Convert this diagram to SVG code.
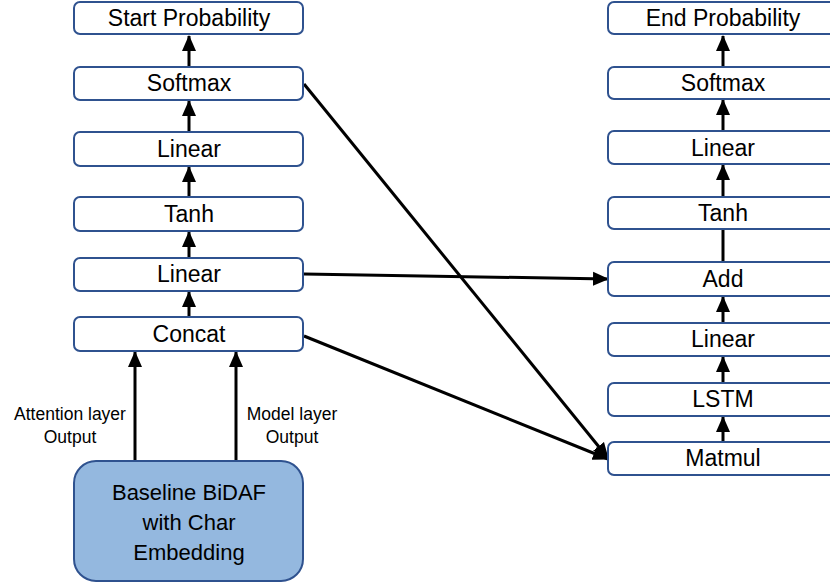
<svg xmlns="http://www.w3.org/2000/svg" width="830" height="583" viewBox="0 0 830 583">
<defs>
<marker id="ah" markerUnits="userSpaceOnUse" markerWidth="16" markerHeight="16" viewBox="0 0 16 16" refX="15" refY="8" orient="auto">
<path d="M0,1 L16,8 L0,15 Z" fill="#000"/>
</marker>
<style>
.box{fill:#fff;stroke:#2F528F;stroke-width:2}
.big{fill:#94B8DF;stroke:#2F528F;stroke-width:2}
.t{font-family:"Liberation Sans",Arial,sans-serif;font-size:23px;text-anchor:middle;fill:#000}
.b{font-family:"Liberation Sans",Arial,sans-serif;font-size:22px;text-anchor:middle;fill:#000}
.s{font-family:"Liberation Sans",Arial,sans-serif;font-size:17.5px;text-anchor:middle;fill:#000}
.c line{stroke:#000;stroke-width:3}
</style>
</defs>
<rect width="830" height="583" fill="#fff"/>
<g class="c" id="connectors">
<line x1="189" y1="67" x2="189" y2="36" marker-end="url(#ah)"/>
<line x1="189" y1="132" x2="189" y2="101" marker-end="url(#ah)"/>
<line x1="189" y1="197" x2="189" y2="167" marker-end="url(#ah)"/>
<line x1="189" y1="258" x2="189" y2="232" marker-end="url(#ah)"/>
<line x1="189" y1="317" x2="189" y2="292" marker-end="url(#ah)"/>
<line x1="135" y1="461" x2="135" y2="352" marker-end="url(#ah)"/>
<line x1="236" y1="461" x2="236" y2="352" marker-end="url(#ah)"/>
<line x1="723" y1="67" x2="723" y2="36" marker-end="url(#ah)"/>
<line x1="723" y1="131" x2="723" y2="100" marker-end="url(#ah)"/>
<line x1="723" y1="197" x2="723" y2="165" marker-end="url(#ah)"/>
<line x1="723" y1="262" x2="723" y2="229"/>
<line x1="723" y1="323" x2="723" y2="297" marker-end="url(#ah)"/>
<line x1="723" y1="383" x2="723" y2="357" marker-end="url(#ah)"/>
<line x1="723" y1="442" x2="723" y2="417" marker-end="url(#ah)"/>
<line x1="304" y1="84" x2="608" y2="458" marker-end="url(#ah)"/>
<line x1="304" y1="274" x2="608" y2="279" marker-end="url(#ah)"/>
<line x1="304" y1="336" x2="608" y2="459" marker-end="url(#ah)"/>
</g>
<g id="start-probability"><rect class="box" x="74" y="2" width="229" height="32" rx="6"/><text class="t" x="189" y="26">Start Probability</text></g>
<g id="softmax-left"><rect class="box" x="74" y="67" width="229" height="33" rx="6"/><text class="t" x="189" y="91">Softmax</text></g>
<g id="linear-left-2"><rect class="box" x="74" y="132" width="229" height="34" rx="6"/><text class="t" x="189" y="157">Linear</text></g>
<g id="tanh-left"><rect class="box" x="74" y="197" width="229" height="34" rx="6"/><text class="t" x="189" y="222">Tanh</text></g>
<g id="linear-left-1"><rect class="box" x="74" y="258" width="229" height="33" rx="6"/><text class="t" x="189" y="282">Linear</text></g>
<g id="concat"><rect class="box" x="74" y="317" width="229" height="34" rx="6"/><text class="t" x="189" y="342">Concat</text></g>
<g id="baseline"><rect class="big" x="74" y="461" width="229" height="120" rx="22"/>
<text class="b" x="189" y="500">Baseline BiDAF</text><text class="b" x="189" y="530">with Char</text><text class="b" x="189" y="560">Embedding</text></g>
<g id="label-attention"><text class="s" x="70" y="420">Attention layer</text><text class="s" x="70" y="443">Output</text></g>
<g id="label-model"><text class="s" x="292" y="420">Model layer</text><text class="s" x="292" y="443">Output</text></g>
<g id="end-probability"><rect class="box" x="608" y="2" width="229" height="32" rx="6"/><text class="t" x="723" y="26">End Probability</text></g>
<g id="softmax-right"><rect class="box" x="608" y="67" width="229" height="32" rx="6"/><text class="t" x="723" y="91">Softmax</text></g>
<g id="linear-right-2"><rect class="box" x="608" y="131" width="229" height="33" rx="6"/><text class="t" x="723" y="156">Linear</text></g>
<g id="tanh-right"><rect class="box" x="608" y="197" width="229" height="32" rx="6"/><text class="t" x="723" y="221">Tanh</text></g>
<g id="add"><rect class="box" x="608" y="262" width="229" height="34" rx="6"/><text class="t" x="723" y="287">Add</text></g>
<g id="linear-right-1"><rect class="box" x="608" y="323" width="229" height="33" rx="6"/><text class="t" x="723" y="347">Linear</text></g>
<g id="lstm"><rect class="box" x="608" y="383" width="229" height="33" rx="6"/><text class="t" x="723" y="407">LSTM</text></g>
<g id="matmul"><rect class="box" x="608" y="442" width="229" height="33" rx="6"/><text class="t" x="723" y="466">Matmul</text></g>
</svg>
